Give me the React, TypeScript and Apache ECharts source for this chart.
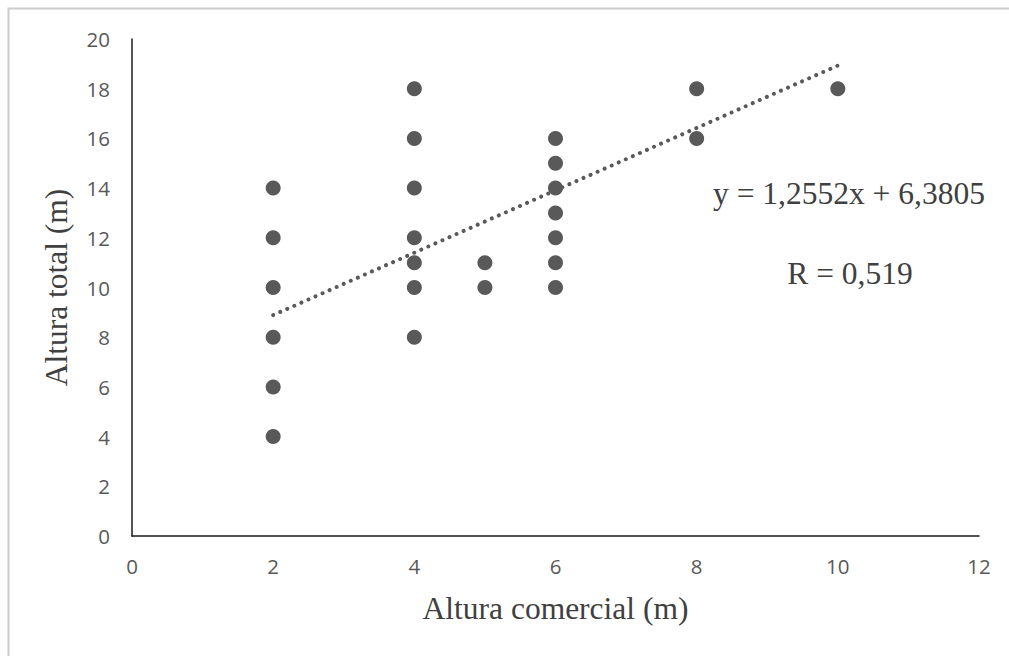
import React, { useEffect, useRef } from "react";
import * as echarts from "echarts";

const alturaComercial = [2, 2, 2, 2, 2, 2, 4, 4, 4, 4, 4, 4, 4, 5, 5, 6, 6, 6, 6, 6, 6, 6, 8, 8, 10];
const alturaTotal = [14, 12, 10, 8, 6, 4, 18, 16, 14, 12, 11, 10, 8, 11, 10, 16, 15, 14, 13, 12, 11, 10, 18, 16, 18];
const xTicks = [0, 2, 4, 6, 8, 10, 12];
const yTicks = [0, 2, 4, 6, 8, 10, 12, 14, 16, 18, 20];
const slope = 1.2552;
const intercept = 6.3805;
const trendRange = [2, 10];
const equationText = "y = 1,2552x + 6,3805";
const rText = "R = 0,519";

export default function App() {
  const ref = useRef<HTMLDivElement>(null);
  useEffect(() => {
    if (!ref.current) return;
    const chart = echarts.init(ref.current, null, { renderer: "svg" });
    const points = alturaComercial.map((x, i) => [x, alturaTotal[i]]);
    const trend = trendRange.map((x) => [x, slope * x + intercept]);
    const tickFont = { fontFamily: "Open Sans", fontSize: 20.5, color: "#595959" };
    const titleFont = { fontFamily: "Liberation Serif", fontSize: 31.5, color: "#404040" };
    chart.setOption({
      animation: false,
      backgroundColor: "#ffffff",
      grid: { left: 132, right: 30, top: 39, bottom: 120, containLabel: false },
      xAxis: {
        type: "value",
        min: xTicks[0],
        max: xTicks[xTicks.length - 1],
        interval: 2,
        axisLine: { show: true, onZero: false, lineStyle: { color: "#1a1a1a", width: 1.5 } },
        axisTick: { show: false },
        splitLine: { show: false },
        axisLabel: { ...tickFont, margin: 19 },
        name: "Altura comercial (m)",
        nameLocation: "middle",
        nameGap: 56,
        nameTextStyle: titleFont,
      },
      yAxis: {
        type: "value",
        min: yTicks[0],
        max: yTicks[yTicks.length - 1],
        interval: 2,
        axisLine: { show: true, onZero: false, lineStyle: { color: "#1a1a1a", width: 1.5 } },
        axisTick: { show: false },
        splitLine: { show: false },
        axisLabel: { ...tickFont, margin: 22 },
        name: "Altura total (m)",
        nameLocation: "middle",
        nameGap: 60,
        nameTextStyle: titleFont,
      },
      series: [
        {
          type: "scatter",
          data: points,
          symbol: "circle",
          symbolSize: 15,
          itemStyle: { color: "#595959", opacity: 1 },
          z: 3,
        },
        {
          type: "line",
          data: trend,
          symbol: "none",
          lineStyle: { color: "#595959", width: 4, type: [0.01, 7.7], cap: "round" },
          z: 4,
        },
      ],
      graphic: [
        {
          type: "rect",
          shape: { x: 8.5, y: 8.5, width: 1100, height: 800 },
          style: { fill: "none", stroke: "#cccccc", lineWidth: 2 },
          silent: true,
        },
        {
          type: "text",
          x: 849,
          y: 193,
          style: {
            text: equationText,
            font: "31.5px 'Liberation Serif'",
            fill: "#404040",
            align: "center",
            verticalAlign: "middle",
          },
        },
        {
          type: "text",
          x: 850,
          y: 273,
          style: {
            text: rText,
            font: "31.5px 'Liberation Serif'",
            fill: "#404040",
            align: "center",
            verticalAlign: "middle",
          },
        },
      ],
    });
    return () => chart.dispose();
  }, []);
  return (
    <div
      ref={ref}
      style={{ position: "fixed", left: 0, top: 0, width: 1009, height: 656 }}
    />
  );
}
